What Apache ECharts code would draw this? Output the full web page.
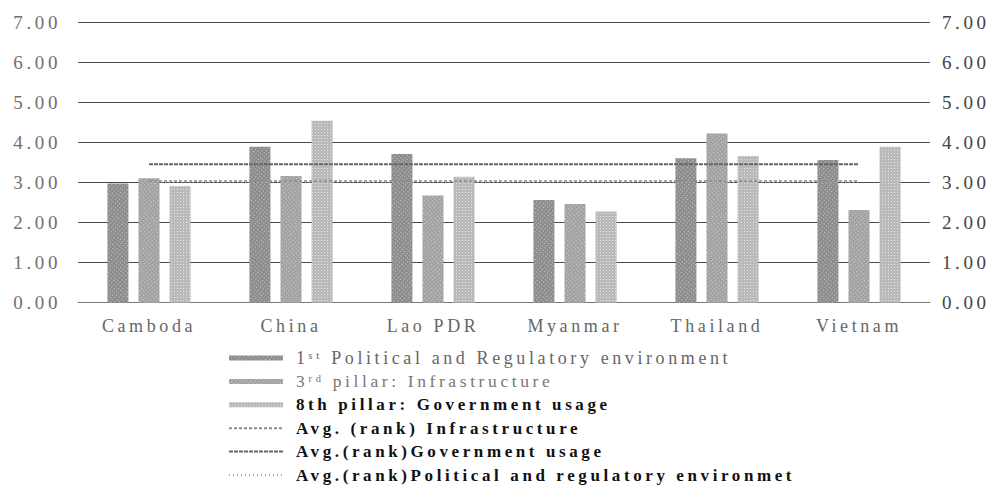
<!DOCTYPE html>
<html>
<head>
<meta charset="utf-8">
<title>Pillar scores by country</title>
<script src="https://cdn.jsdelivr.net/npm/echarts@6/dist/echarts.min.js"></script>
<style>
  html, body { margin: 0; padding: 0; background: #fff; }
  /* SVG text inherits this, giving the wide, spaced-out lettering */
  #chart { width: 1003px; height: 502px; letter-spacing: 3.6px; }
</style>
</head>
<body>
<div id="chart"></div>
<script>
const categories = ['Camboda', 'China', 'Lao PDR', 'Myanmar', 'Thailand', 'Vietnam'];

// 1st pillar, 3rd pillar and 8th pillar scores
const politicalEnv   = [2.98, 3.90, 3.72, 2.57, 3.61, 3.57];
const infrastructure = [3.11, 3.17, 2.68, 2.47, 4.23, 2.32];
const governmentUse  = [2.92, 4.55, 3.15, 2.28, 3.67, 3.90];

// Average (rank) reference lines
const avgInfrastructure = [3.04, 3.04, 3.04, 3.04, 3.04, 3.04];
const avgGovernment     = [3.46, 3.46, 3.46, 3.46, 3.46, 3.46];
const avgPolitical      = [3.01, 3.01, 3.01, 3.01, 3.01, 3.01];

const names = [
  '1\u02e2\u1d57 Political and Regulatory environment',
  '3\u02b3\u1d48 pillar: Infrastructure',
  '8th pillar: Government usage',
  'Avg. (rank) Infrastructure',
  'Avg.(rank)Government usage',
  'Avg.(rank)Political and regulatory environmet'
];

const serif = '"Liberation Serif", "DejaVu Serif", "Times New Roman", serif';

function grain(alpha, rot) {
  return {
    symbol: 'rect',
    symbolSize: 1,
    color: 'rgba(255,255,255,' + alpha + ')',
    dashArrayX: [1, 2],
    dashArrayY: [1, 2],
    rotation: rot
  };
}

const chart = echarts.init(document.getElementById('chart'), null, { renderer: 'svg' });

const hidden = 'rgba(0,0,0,0)';
const legendPad = [0, 0, 0, 8];

chart.setOption({
  animation: false,
  backgroundColor: '#ffffff',
  grid: { left: 78, right: 73, top: 22.7, bottom: 199.3, containLabel: false },
  xAxis: {
    type: 'category',
    data: categories,
    axisLine: { show: true, lineStyle: { color: '#777', width: 1 } },
    axisTick: { show: false },
    axisLabel: { fontFamily: serif, fontSize: 18, color: '#666', margin: 14 }
  },
  yAxis: [
    {
      type: 'value', min: 0, max: 7, interval: 1, position: 'left',
      axisLine: { show: false }, axisTick: { show: false },
      splitLine: { show: true, lineStyle: { color: '#4a4a4a', width: 1.2 } },
      axisLabel: { fontFamily: serif, fontSize: 19, color: '#707070', margin: 17,
                   formatter: v => v.toFixed(2) }
    },
    {
      type: 'value', min: 0, max: 7, interval: 1, position: 'right',
      axisLine: { show: false }, axisTick: { show: false },
      splitLine: { show: false },
      axisLabel: { fontFamily: serif, fontSize: 19, color: '#444', margin: 12,
                   formatter: v => v.toFixed(2) }
    }
  ],
  legend: {
    orient: 'vertical',
    left: 223,
    top: 344,
    itemWidth: 54,
    itemHeight: 5,
    itemGap: 5.4,
    textStyle: { fontFamily: serif, fontSize: 17, lineHeight: 18, color: '#666', padding: legendPad },
    data: [
      { name: names[0], icon: 'rect', textStyle: { color: '#666', fontSize: 18, padding: legendPad } },
      { name: names[1], icon: 'rect', textStyle: { color: '#777', fontSize: 17.5, padding: legendPad } },
      { name: names[2], icon: 'rect', textStyle: { color: '#111', fontWeight: 'bold', padding: legendPad } },
      { name: names[3], textStyle: { color: '#111', fontWeight: 'bold', padding: legendPad } },
      { name: names[4], textStyle: { color: '#111', fontWeight: 'bold', padding: legendPad } },
      { name: names[5], textStyle: { color: '#111', fontWeight: 'bold', padding: legendPad } }
    ]
  },
  series: [
    {
      name: names[0], type: 'bar', data: politicalEnv,
      barWidth: 21, barGap: '48%',
      itemStyle: { color: '#8d8d8d', decal: grain(0.55, 0.7) }
    },
    {
      name: names[1], type: 'bar', data: infrastructure,
      barWidth: 21, barGap: '48%',
      itemStyle: { color: '#a2a2a2', decal: grain(0.55, -0.7) }
    },
    {
      name: names[2], type: 'bar', data: governmentUse,
      barWidth: 21, barGap: '48%',
      itemStyle: { color: '#b9b9b9', decal: grain(0.6, 0) }
    },
    {
      name: names[3], type: 'line', data: avgInfrastructure,
      symbol: 'none', z: 5,
      lineStyle: { color: '#8a8a8a', width: 1.5, type: [3, 2] },
      itemStyle: { color: hidden }
    },
    {
      name: names[4], type: 'line', data: avgGovernment,
      symbol: 'none', z: 5,
      lineStyle: { color: '#666', width: 2, type: [4, 1] },
      itemStyle: { color: hidden }
    },
    {
      name: names[5], type: 'line', data: avgPolitical,
      symbol: 'none', z: 5,
      lineStyle: { color: '#aaa', width: 1.2, type: [1, 3] },
      itemStyle: { color: hidden }
    }
  ]
});
</script>
</body>
</html>
